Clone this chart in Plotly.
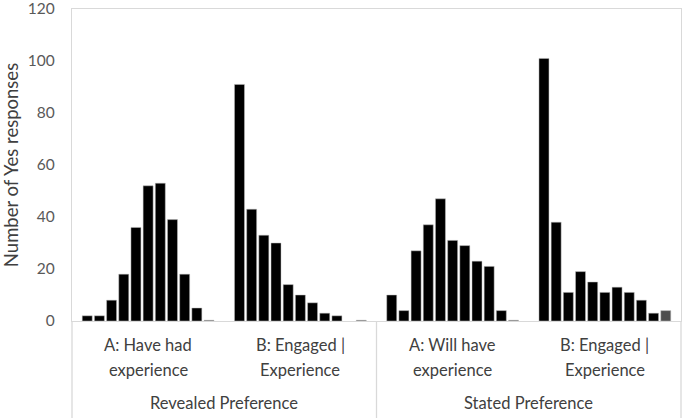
import plotly.graph_objects as go

# categories: outer group and the two-line inner label of each category
cats = ["RP-A", "RP-B", "SP-A", "SP-B"]
inner_l1 = ["A: Have had", "B: Engaged |", "A: Will have", "B: Engaged |"]
inner_l2 = ["experience", "Experience", "experience", "Experience"]
groups = ["Revealed Preference", "Stated Preference"]

# one series per response level, values per category
s0 = [2, 91, 10, 101]
s1 = [2, 43, 4, 38]
s2 = [8, 33, 27, 11]
s3 = [18, 30, 37, 19]
s4 = [36, 14, 47, 15]
s5 = [52, 10, 31, 11]
s6 = [53, 7, 29, 13]
s7 = [39, 3, 23, 11]
s8 = [18, 2, 21, 8]
s9 = [5, None, 4, 3]
s10 = [0.3, 0.3, 0.3, 4]

series = [s0, s1, s2, s3, s4, s5, s6, s7, s8, s9, s10]
names = [str(i) for i in range(11)]

fig = go.Figure()
for i, vals in enumerate(series):
    col = "#000000" if i < 10 else "#4d4d4d"
    fig.add_trace(go.Bar(x=cats, y=vals, name=names[i],
                         marker=dict(color=col, line=dict(color="#bfbfbf", width=0.5))))

grid = "#d9d9d9"
txt = "#404040"

# category labels under the axis
for c, a, b in zip(cats, inner_l1, inner_l2):
    fig.add_annotation(x=c, xref="x", y=-0.077, yref="paper", text=a, showarrow=False,
                       xanchor="center", yanchor="middle", font=dict(size=16.5, color=txt))
    fig.add_annotation(x=c, xref="x", y=-0.157, yref="paper", text=b, showarrow=False,
                       xanchor="center", yanchor="middle", font=dict(size=16.5, color=txt))
for k, g in enumerate(groups):
    fig.add_annotation(x=0.25 + 0.5 * k, xref="paper", y=-0.263, yref="paper", text=g,
                       showarrow=False, xanchor="center", yanchor="middle",
                       font=dict(size=16.5, color=txt))

# separators in the label area
for xp in [0, 0.5, 1]:
    fig.add_shape(type="line", xref="paper", yref="paper", x0=xp, x1=xp, y0=-0.32, y1=0,
                  line=dict(color=grid, width=1.3))

fig.update_layout(
    width=685, height=418,
    margin=dict(l=72, r=4, t=9, b=97),
    barmode="group", bargap=0.12, bargroupgap=0.18,
    showlegend=False,
    plot_bgcolor="white", paper_bgcolor="white",
    font=dict(family="Lato", size=16, color=txt),
)
fig.update_xaxes(type="category", showline=True, linecolor=grid, linewidth=1.3,
                 mirror=True, ticks="", showticklabels=False, range=[-0.5, 3.5],
                 automargin=False)
fig.update_yaxes(range=[0, 120], dtick=20, showgrid=False, zeroline=False,
                 showline=True, linecolor=grid, linewidth=1.3, mirror=True,
                 ticks="", tickfont=dict(size=15.5, color="#595959"),
                 ticklabelstandoff=13, ticklabeloverflow="allow", automargin=False,
                 title=dict(text="Number of Yes responses", font=dict(size=18.5, color=txt),
                            standoff=6))

fig.write_html("out.html", config={"displayModeBar": False},
               post_script="document.body.style.margin='0';")
